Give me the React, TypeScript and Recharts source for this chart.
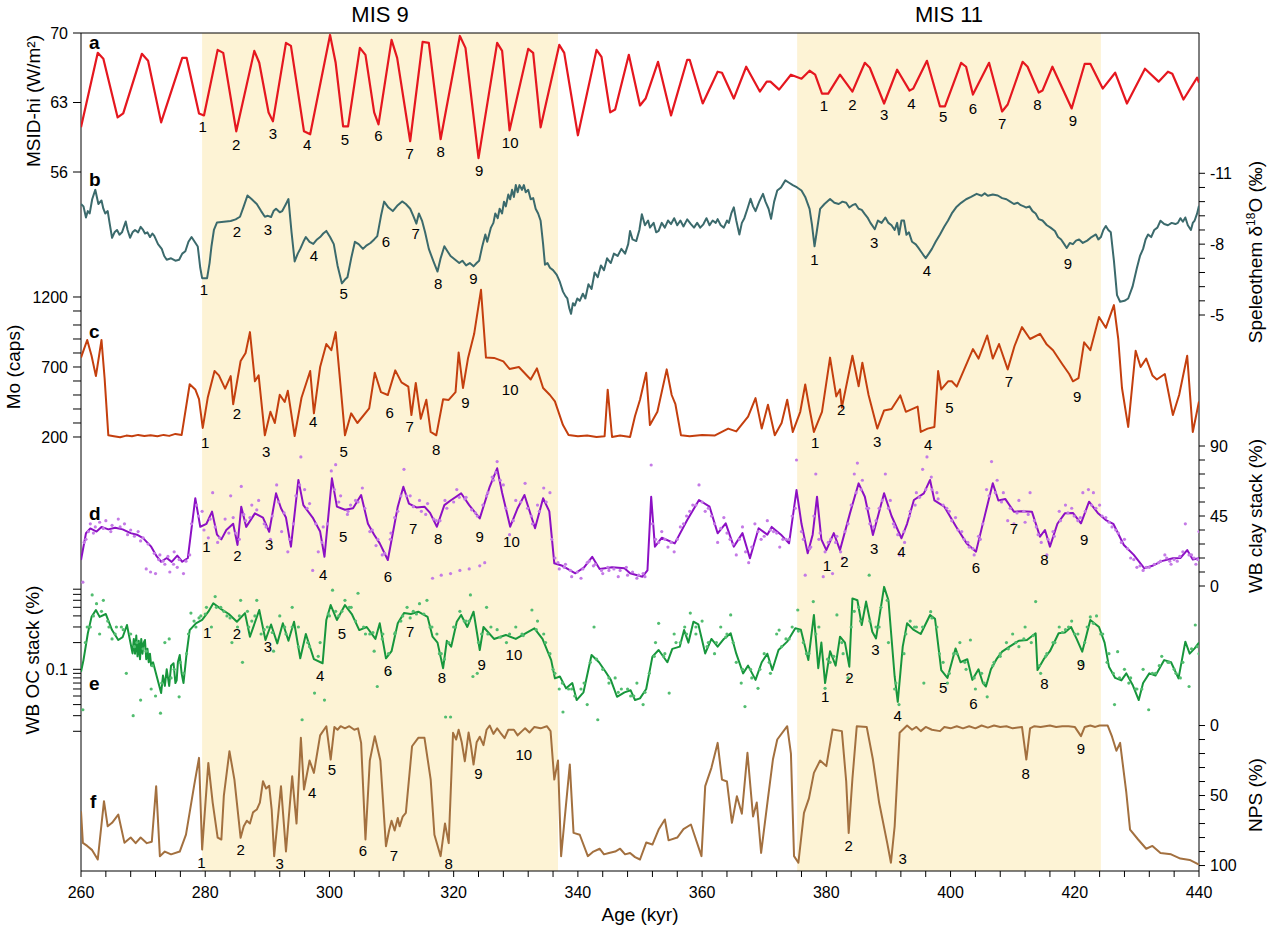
import React from "react";
import {
  ComposedChart,
  Line,
  Scatter,
  XAxis,
  YAxis,
  ReferenceArea,
  ReferenceLine,
} from "recharts";

// Six stacked proxy records (a-f) sharing one age axis, MIS 9 and MIS 11
// shaded. Each pair of records lives in its own transparent chart layer so
// every record can have its own y scale placed in its own band.

type Pair = [number, number];
type Tag = [number, number, string];

const W = 1267;
const H = 926;
const MARGIN = { top: 33, right: 8, bottom: 25, left: 21 };
const FONT = '"Liberation Sans", Arial, Helvetica, sans-serif';

const AGE_DOMAIN: Pair = [260, 440];
const AGE_TICKS = [
  260, 264, 268, 272, 276, 280, 284, 288, 292, 296, 300, 304, 308, 312, 316,
  320, 324, 328, 332, 336, 340, 344, 348, 352, 356, 360, 364, 368, 372, 376,
  380, 384, 388, 392, 396, 400, 404, 408, 412, 416, 420, 424, 428, 432, 436, 440,
];
const MIS_BANDS: [number, number, string][] = [
  [279.5, 336.8, "MIS 9"],
  [375.3, 424.2, "MIS 11"],
];

// y domains are chosen so each record sits in its own band of the frame
const MSID_DOMAIN: Pair = [-14.4, 70];
const MSID_TICKS = [56, 63, 70];
const O18_DOMAIN: Pair = [-16.94, 18.54];
const O18_TICKS = [-11, -10.4, -9.8, -9.2, -8.6, -8, -7.4, -6.8, -6.2, -5.6, -5];
const O18_LABELS = [-11, -8, -5];
const MO_DOMAIN: Pair = [-2900, 3085.7];
const MO_TICKS = [200, 300, 400, 500, 600, 700, 800, 900, 1000, 1100, 1200];
const MO_LABELS = [200, 700, 1200];
const CLAY_DOMAIN: Pair = [-183.2, 355.5];
const CLAY_TICKS = [0, 9, 18, 27, 36, 45, 54, 63, 72, 81, 90];
const CLAY_LABELS = [0, 45, 90];
const OC_DOMAIN: Pair = [0.000532, 1493000];
const OC_TICKS = [
  0.02, 0.03, 0.04, 0.05, 0.06, 0.07, 0.08, 0.09, 0.1, 0.2, 0.3, 0.4, 0.5,
  0.6, 0.7, 0.8,
];
const NPS_DOMAIN: Pair = [-494.6, 103.9];
const NPS_TICKS = [0, 10, 20, 30, 40, 50, 60, 70, 80, 90, 100];
const NPS_LABELS = [0, 50, 100];

const COLORS = {
  band: "#fdf3d5",
  msid: "#e5171f",
  o18: "#3b6a6c",
  mo: "#c43f0e",
  clay: "#8c10c4",
  clayDot: "#c47ae6",
  oc: "#17963c",
  ocDot: "#52bd70",
  nps: "#a3703f",
};

// a: MSID-hi insolation (W/m2)
const MSID: Pair[] = [
  [260, 60.5], [262.7, 68.0], [263.6, 67.4], [265.9, 61.5], [266.8, 61.9], [269.8, 67.9],
  [270.8, 67.2], [272.9, 61.0], [276.3, 67.5], [277, 67.5], [279, 61.9], [279.8, 61.7],
  [282, 68.3], [282.9, 68.0], [285, 60.1], [287.9, 68.2], [288.7, 67.0], [290.2, 62.0],
  [290.9, 61.1], [293, 69.0], [293.8, 68.7], [295.9, 60.1], [296.9, 59.8], [300.1, 69.8],
  [301, 67.0], [302.2, 60.6], [303, 60.6], [304.9, 68.5], [305.8, 67.8], [307.2, 62.0],
  [307.9, 60.8], [310, 69.3], [310.9, 67.5], [313, 59.1], [315, 69.1], [316, 69.0],
  [317.9, 59.3], [321, 69.7], [321.9, 68.5], [324, 57.4], [327, 69.0], [327.8, 68.2],
  [329, 60.2], [332, 68.4], [332.8, 68.0], [334, 60.5], [337, 68.8], [337.8, 68.0],
  [340, 59.7], [343, 68.3], [343.8, 67.6], [345.2, 62.0], [346, 62.3], [348.2, 67.8],
  [350, 62.7], [350.9, 63.4], [352.9, 67.1], [355, 61.7], [357.6, 67.3], [358, 67.3],
  [360.1, 62.9], [362.5, 66.1], [363.2, 66.0], [365.1, 63.4], [367.1, 66.6], [369.3, 64.1],
  [370.4, 65.1], [371, 65.1], [372.4, 64.3], [374.3, 65.8], [376, 65.4], [377.3, 66.2],
  [378.2, 65.8], [379.3, 63.9], [380.3, 63.9], [382.2, 65.8], [384.2, 64.1], [386.2, 67.0],
  [387, 66.5], [389.3, 62.9], [391.4, 66.3], [393.4, 64.2], [394, 64.4], [396.2, 67.2],
  [398.3, 62.6], [399.1, 62.6], [401.7, 67.0], [402.5, 66.6], [403.6, 63.8], [406.2, 67.0],
  [408.3, 62.1], [409.2, 62.8], [411.6, 67.1], [412.4, 66.6], [414.2, 64.0], [414.8, 64.2],
  [416.4, 66.6], [419.5, 62.4], [421.6, 66.9], [422.5, 66.9], [424.5, 64.4], [426.5, 66.0],
  [428.4, 62.9], [431.3, 66.4], [433.5, 65.1], [435, 66.1], [435.7, 65.9], [437.5, 63.3],
  [439.7, 65.5], [440, 65.0],
];

// b: speleothem d18O (permil)
const O18: Pair[] = [
  [260, -9.7], [260.4, -9.6], [260.8, -9.13], [261.1, -9.4], [261.4, -9.3], [261.8, -9.9], [262.3, -10.3],
  [262.8, -9.7], [263.3, -9.85], [263.6, -9.5], [263.9, -9.3], [264.3, -9.4], [264.6, -8.9], [265, -8.27],
  [265.4, -8.5], [265.8, -8.6], [266.2, -8.4], [266.6, -8.5], [267.2, -8.96], [267.5, -8.6], [267.9, -8.27],
  [268.3, -8.5], [268.7, -8.6], [269.2, -8.5], [269.6, -8.73], [270, -8.6], [270.3, -8.45], [270.7, -8.5],
  [271.1, -8.3], [271.5, -8.45], [271.8, -8.35], [272.4, -8.0], [273, -7.8], [273.4, -7.5], [273.8, -7.34],
  [274.5, -7.4], [275.2, -7.3], [275.8, -7.34], [276.3, -7.6], [276.8, -7.7], [277.3, -8.1], [277.8, -8.3],
  [278.3, -8.1], [278.8, -7.9], [279.2, -7.0], [279.5, -6.56], [280.3, -6.56], [280.7, -7.2], [281, -7.9],
  [281.4, -8.6], [281.9, -8.92], [283, -8.95], [284.1, -8.98], [284.9, -9.05], [285.6, -9.16], [286.2, -9.6],
  [286.8, -10.06], [287.5, -9.9], [288.3, -9.7], [289, -9.4], [289.6, -9.16], [290.1, -9.2], [290.6, -9.15],
  [291, -9.4], [291.4, -9.5], [292, -9.35], [292.4, -9.4], [293, -9.7], [293.4, -9.91], [293.9, -8.5],
  [294.4, -7.27], [294.9, -7.6], [295.3, -7.8], [295.8, -8.1], [296.2, -8.3], [296.8, -8.1], [297.4, -8.01],
  [298, -8.2], [298.5, -8.3], [299, -8.45], [299.5, -8.56], [300.1, -8.3], [300.7, -8.0], [301.3, -7.1],
  [302, -6.34], [302.5, -6.5], [302.9, -6.6], [303.5, -7.4], [304.1, -8.1], [304.7, -8.0], [305.4, -7.8],
  [306, -7.95], [306.6, -8.05], [307.2, -8.2], [307.7, -8.34], [308.3, -9.2], [308.8, -9.8], [309.5, -9.55],
  [310.2, -9.4], [311, -9.65], [311.7, -9.81], [312.3, -9.7], [313, -9.5], [313.5, -9.2], [314, -8.87],
  [314.4, -9.3], [314.9, -9.0], [315.4, -8.5], [316, -7.8], [316.7, -7.3], [317.4, -6.84], [317.9, -7.4],
  [318.5, -7.91], [319, -7.7], [319.5, -7.5], [320.2, -7.35], [320.9, -7.2], [321.4, -7.3], [322, -7.1],
  [322.6, -7.2], [323.2, -7.06], [323.7, -7.2], [324.1, -7.3], [324.6, -7.9], [325.1, -8.41], [325.4, -8.1],
  [325.7, -8.4], [326, -8.7], [326.4, -8.9], [326.7, -9.3], [327.1, -9.1], [327.4, -9.5], [327.8, -9.3],
  [328.1, -9.8], [328.4, -9.6], [328.8, -10.1], [329.1, -9.9], [329.4, -10.3], [329.7, -10.0], [330, -10.5],
  [330.3, -10.2], [330.6, -10.5], [331, -10.3], [331.3, -10.5], [331.6, -10.2], [332, -10.3], [332.4, -9.9],
  [332.8, -9.95], [333.2, -9.5], [333.6, -9.3], [334, -8.99], [334.4, -8.0], [334.7, -7.13], [335.1, -7.2],
  [335.5, -7.0], [336, -6.9], [336.6, -6.7], [337.1, -6.4], [337.6, -5.99], [338, -5.8], [338.3, -5.7],
  [338.6, -5.3], [338.9, -5.05], [339.2, -5.5], [339.5, -5.4], [339.9, -5.7], [340.3, -5.6], [340.8, -5.9],
  [341.2, -5.7], [341.7, -6.3], [342.2, -6.1], [342.7, -6.8], [343.2, -6.6], [343.7, -7.1], [344.2, -6.9],
  [344.7, -7.4], [345.3, -7.2], [345.8, -7.6], [346.4, -7.5], [347, -7.8], [347.6, -7.6], [348.1, -8.0],
  [348.4, -8.56], [348.8, -8.2], [349.4, -8.13], [349.9, -8.6], [350.3, -9.27], [350.8, -8.8], [351.3, -9.0],
  [351.6, -8.7], [352.2, -8.9], [352.6, -8.5], [353, -8.56], [353.5, -8.9], [354, -8.7], [354.5, -9.0],
  [355, -8.85], [355.5, -9.1], [356, -8.8], [356.5, -9.0], [357, -8.75], [357.6, -9.05], [358.2, -8.85],
  [358.7, -8.7], [359.2, -8.9], [359.7, -8.7], [360.2, -8.84], [360.7, -9.1], [361.2, -8.8], [361.7, -9.0],
  [362.2, -8.9], [362.5, -9.06], [363, -8.8], [363.5, -8.7], [364, -9.0], [364.3, -8.9], [364.7, -9.3],
  [365.1, -9.56], [365.5, -9.0], [366, -8.41], [366.4, -8.9], [366.8, -9.1], [367.3, -9.5], [367.8, -9.92],
  [368.2, -9.6], [368.6, -9.4], [369.2, -9.8], [369.8, -10.13], [370.2, -9.8], [370.7, -9.5], [371.1, -9.07],
  [371.6, -9.8], [372.1, -10.27], [372.7, -10.4], [373.4, -10.7], [374, -10.6], [374.6, -10.5], [375.3, -10.4],
  [376, -10.27], [376.6, -10.0], [377.3, -9.49], [377.7, -8.8], [378.1, -7.91], [378.5, -8.6], [379, -9.49],
  [379.7, -9.7], [380.6, -9.91], [381.3, -9.75], [382, -9.7], [382.6, -9.8], [383.2, -9.75], [383.7, -9.55],
  [384.2, -9.65], [384.7, -9.7], [385.2, -9.5], [385.7, -9.45], [386.2, -9.27], [386.7, -9.1], [387.1, -8.9],
  [387.5, -8.75], [387.8, -8.63], [388.3, -9.0], [388.9, -8.9], [389.5, -9.13], [390, -8.9], [390.5, -8.8],
  [391, -8.6], [391.4, -8.9], [391.7, -8.41], [392.1, -9.0], [392.5, -9.0], [392.9, -8.4], [393.3, -8.5],
  [393.8, -8.1], [394.4, -7.99], [394.8, -7.85], [395.2, -7.7], [395.6, -7.55], [396, -7.41], [396.5, -7.6],
  [397, -7.8], [397.6, -8.1], [398.3, -8.41], [399, -8.75], [399.6, -9.0], [400.2, -9.3], [400.9, -9.56],
  [401.7, -9.75], [402.5, -9.9], [403.3, -10.0], [404.2, -10.13], [405, -10.05], [405.5, -10.15], [406, -10.05],
  [406.8, -10.1], [407.6, -10.06], [408.3, -9.95], [409, -9.9], [409.6, -9.8], [410.2, -9.7], [410.8, -9.75],
  [411.3, -9.65], [411.8, -9.6], [412.2, -9.55], [412.7, -9.6], [413.2, -9.4], [413.7, -9.3], [414.2, -9.06],
  [414.8, -9.0], [415.5, -8.8], [416.1, -8.7], [416.8, -8.56], [417.3, -8.3], [417.8, -8.2], [418.3, -8.0],
  [418.7, -7.84], [419.2, -8.05], [419.7, -8.0], [420.2, -8.15], [420.7, -8.2], [421.3, -8.05], [422, -8.15],
  [422.7, -8.3], [423.4, -8.41], [423.8, -8.2], [424.2, -8.3], [424.6, -8.6], [425, -8.77], [425.4, -8.6],
  [425.8, -8.5], [426.3, -7.3], [426.8, -5.84], [427.3, -5.56], [428, -5.6], [428.6, -5.7], [429.3, -6.2],
  [430, -6.99], [430.5, -7.5], [431, -7.8], [431.4, -8.2], [431.8, -8.41], [432.3, -8.3], [432.8, -8.6],
  [433.3, -8.7], [433.8, -8.99], [434.4, -8.85], [435, -8.8], [435.6, -8.9], [436.2, -8.85], [436.6, -8.9],
  [437, -9.1], [437.4, -8.95], [437.8, -9.13], [438.2, -8.8], [438.7, -8.6], [439, -8.9], [439.3, -9.0],
  [439.7, -9.3], [440, -9.63],
];

// c: Mo counts (caps)
const MO: Pair[] = [
  [260, 767], [261, 893], [261.7, 780], [262.4, 635], [263.3, 893], [263.8, 620], [264.4, 212],
  [265.3, 205], [266.3, 198], [267.3, 210], [268.2, 205], [269.2, 215], [270.2, 207], [271.2, 212],
  [272.3, 205], [273.3, 215], [274.2, 208], [275.2, 222], [276.2, 214], [277.5, 577], [278.4, 540],
  [279, 470], [279.6, 265], [280.4, 480], [281.5, 671], [282.2, 640], [283.2, 545], [284.1, 635],
  [284.5, 434], [285.7, 743], [286.5, 800], [287.2, 949], [288, 598], [288.6, 640], [289.6, 212],
  [290.5, 380], [291.2, 300], [292, 502], [292.8, 450], [293.3, 530], [294.4, 207], [295.5, 480],
  [296.9, 671], [297.5, 369], [298.5, 700], [299.5, 864], [300.3, 820], [301, 949], [301.8, 560],
  [302.5, 212], [303.5, 369], [304.5, 300], [306.4, 405], [307.3, 659], [308.3, 520], [309.4, 500],
  [310.6, 676], [311.6, 590], [312.7, 560], [313.2, 357], [313.9, 586], [314.7, 330], [315.6, 466],
  [316.3, 236], [317.2, 212], [318.3, 470], [319.2, 465], [320.3, 520], [320.8, 804], [321.5, 550],
  [322.3, 760], [323.3, 937], [324.4, 1251], [325.2, 767], [326.5, 765], [328, 740], [329, 686],
  [330.5, 700], [332.4, 611], [333.4, 690], [334.4, 550], [335.5, 500], [336.3, 454], [337.6, 285],
  [338.5, 215], [340, 205], [341.5, 210], [343, 200], [344.3, 205], [344.8, 538], [345.5, 200],
  [346.8, 210], [348.4, 200], [349.2, 350], [350, 466], [351, 659], [351.6, 285], [352.8, 380],
  [354.3, 683], [355.1, 500], [355.7, 434], [356.6, 212], [358, 205], [360, 215], [362, 210],
  [364.2, 260], [365.5, 240], [367.4, 345], [368.6, 478], [369.6, 260], [370.6, 430], [371.7, 212],
  [372.8, 300], [373.7, 466], [374.6, 236], [375.8, 380], [376.6, 575], [377.3, 400], [378, 236],
  [379.3, 380], [380.6, 767], [381.6, 490], [382.2, 540], [382.5, 410], [384.2, 780], [385.2, 562],
  [385.8, 731], [386.8, 500], [388.2, 260], [389.3, 390], [390.5, 400], [391.9, 497], [392.8, 380],
  [394.7, 417], [395.2, 236], [396.3, 260], [397.4, 272], [398, 671], [398.5, 540], [399.6, 598],
  [400.2, 598], [401, 560], [403.6, 828], [404.5, 760], [405.9, 925], [406.8, 760], [407.8, 864],
  [409.2, 683], [410.3, 850], [411.5, 985], [412.8, 900], [414.4, 937], [415.5, 860], [416.5, 820],
  [418, 720], [419.1, 650], [419.7, 598], [420.6, 620], [421.5, 876], [422.5, 820], [423.9, 1057],
  [425, 980], [426.3, 1142], [427, 900], [427.6, 550], [428.6, 272], [429.8, 816], [430.6, 700],
  [431.5, 760], [432.5, 640], [433.2, 611], [434.5, 650], [435.8, 357], [436.8, 500], [438.1, 780],
  [439, 236], [440, 454],
];

// d: WB clay stack (%), smoothed line and raw points
const CLAY: Pair[] = [
  [260, 16.7], [260.8, 33.9], [261.5, 37], [262.5, 35], [263.3, 38], [264.4, 36.4], [265.5, 37.5],
  [266.7, 36.4], [268, 34], [269, 33], [270, 30.8], [271.3, 25.3], [272.2, 19], [272.9, 15.6],
  [273.8, 18], [274.6, 15.5], [275.5, 19.5], [276.3, 15.6], [277.2, 18], [278.4, 56.4], [279.2, 38.1],
  [280.2, 40], [281.1, 47.8], [281.9, 33], [282.6, 30], [283.4, 36], [284.5, 40], [285.2, 26.4],
  [285.8, 51], [286.6, 38], [288, 46.7], [289.3, 44], [290.3, 34.9], [291.4, 59.6], [292.2, 50],
  [293, 44], [293.8, 25.3], [295, 68.2], [295.8, 52], [297.3, 44], [298.5, 35], [299.2, 18.8],
  [300.4, 69.2], [301.2, 51], [302.5, 49], [303.8, 50], [305.1, 58.5], [306.2, 40], [307.2, 33],
  [308.1, 27.4], [309.4, 16.7], [311, 51], [311.9, 63.8], [312.8, 53], [314, 50.5], [315.3, 51],
  [316.2, 47], [317.3, 38.1], [318.5, 52], [319.5, 55], [321.2, 59.6], [322.5, 52], [324.2, 43.5],
  [325.8, 63.8], [327, 75.7], [327.8, 60], [329.1, 38.1], [330.3, 50], [331.4, 58.5], [333.1, 37.1],
  [334.4, 56.4], [335.4, 48], [336.2, 14.6], [337.5, 13], [339.6, 8.2], [341, 12], [342.3, 18.8],
  [343.5, 11], [345.5, 12], [347.5, 11.4], [348.4, 8.2], [350.4, 6], [351.2, 10], [351.8, 57.4],
  [352.4, 25.3], [353.5, 31], [355.6, 27.4], [357.6, 42.4], [359.5, 55.3], [361.2, 51], [362.5, 33.9],
  [363.8, 40.3], [365.1, 25.3], [366.5, 34], [367.7, 17.8], [369.1, 37.1], [370.5, 33], [371.2, 38],
  [372.7, 33], [374, 27.4], [375.2, 61.7], [376, 40], [377, 21], [377.8, 33], [378.5, 57.4],
  [379.2, 30], [380, 23.1], [381.2, 34], [382.2, 23.1], [383.8, 46.7], [385.2, 66], [386.2, 57.4],
  [387.5, 32.8], [389.3, 59.6], [390.5, 45], [392.1, 30.7], [393, 40], [394.1, 55.3], [395.7, 59.6],
  [396.7, 68.2], [397.4, 55], [399, 51], [400.9, 38.1], [402.6, 27.4], [404.1, 22.1], [405.6, 46.7],
  [406.8, 66], [407.7, 55], [408.8, 56], [410.2, 47.8], [411.5, 48], [413.1, 47.8], [414.4, 31.7],
  [415.2, 36], [416, 25.3], [417.2, 40], [418.4, 46.7], [419.7, 47], [421, 40.3], [422.3, 54.2],
  [423.7, 47], [425, 42.4], [426.2, 40], [427.9, 26.4], [429.5, 20], [431.2, 11.4], [432.5, 13],
  [434, 16], [435.8, 17.8], [437, 18], [438.1, 23.1], [439, 17], [440, 17.8],
];
const CLAY_RAW: Pair[] = [
  [260.3, 2.5], [260.8, 30], [261.5, 40], [262.3, 38], [263, 41], [264, 42], [265, 39], [266, 43],
  [267, 40], [268, 36], [269.2, 35], [270, 31], [270.5, 11], [271.2, 9], [272, 8], [272.7, 20],
  [273.5, 14], [274.3, 9], [275, 22], [275.5, 12], [276.5, 8], [277.5, 20], [278.6, 52], [279.5, 48],
  [280.5, 31], [281.2, 60], [282, 28], [283.2, 43], [284.1, 58], [284.9, 34], [285.8, 64], [286.5, 42],
  [287.5, 52], [288.6, 55], [289.5, 40], [290.5, 30], [291.5, 65], [292.3, 35], [293.3, 22], [294.2, 40],
  [295.4, 83], [296, 62], [296.8, 53], [297.3, 10], [298.2, 22], [299, 38], [300.3, 74], [301, 78],
  [301.8, 58], [303, 48], [304.2, 55], [305.3, 63], [306.5, 35], [307.5, 26], [308.5, 20], [309.8, 30],
  [311, 48], [312, 75], [313, 58], [314.5, 55], [315.5, 46], [316.6, 5], [317.2, 42], [318, 7],
  [318.6, 55], [319.5, 8], [320.5, 62], [321, 10], [322, 57], [322.5, 11], [323.5, 47], [324.2, 13],
  [325, 15], [325.5, 60], [326.4, 68], [327, 80], [328, 65], [329, 33], [330, 55], [331.5, 66],
  [332.5, 45], [333.5, 52], [334.5, 63], [335.5, 60], [336.3, 18], [337, 11], [338, 14], [339, 6],
  [340.5, 5], [341.5, 15], [342.5, 13], [344, 8], [345, 10], [346.5, 6], [348, 7], [349.5, 5],
  [350.5, 8], [351.8, 77.8], [352.5, 30], [353.5, 35], [354.5, 25], [355.5, 22], [356.5, 38], [357.5, 45],
  [358.5, 52], [359.5, 65], [360.5, 48], [361.5, 45], [362.5, 28], [363.5, 44], [364.5, 30], [365.5, 20],
  [366.5, 38], [367.5, 15], [368.5, 40], [369.5, 30], [370.5, 42], [371.5, 35], [372.5, 25], [373.5, 30],
  [374.5, 45], [375.2, 81], [376, 35], [376.6, 7], [377.5, 25], [378.3, 72], [378.8, 30], [379.5, 6],
  [380.3, 28], [381, 8], [381.7, 32], [382.6, 18], [383.5, 40], [384.5, 72], [385, 79], [385.8, 68],
  [386.8, 50], [387.6, 38], [388.5, 50], [389.5, 72], [390.3, 55], [391, 38], [391.8, 20], [392.6, 28],
  [393.5, 48], [394.5, 60], [395.5, 75], [396.2, 83], [396.9, 70], [397.8, 60], [398.8, 52], [399.8, 48],
  [400.8, 44], [401.8, 35], [402.8, 28], [403.8, 20], [404.8, 30], [405.8, 62], [406.6, 80], [407.5, 68],
  [408.5, 60], [409.2, 42], [410.2, 40], [411, 55], [412, 41], [412.8, 60], [413.8, 38], [414.6, 28],
  [415.5, 20], [416.5, 35], [417.5, 48], [418.5, 52], [419.5, 50], [420.5, 42], [421.3, 60], [422.2, 62],
  [423, 60], [424, 52], [425, 44], [426, 38], [427, 34], [428, 30], [429, 18], [430, 12],
  [431, 10], [432, 12], [433.5, 15], [434.5, 20], [435.5, 14], [436.5, 16], [437.8, 40], [438.8, 20],
  [439.5, 14], [440, 35],
];
// raw clay points that sit close to the smoothed line
const CLAY_RAW_NEAR: Pair[] = [
  [260.5, 28], [261.2, 35], [262, 34], [263.6, 37], [264.8, 35], [266.3, 38], [267.5, 33], [268.6, 32],
  [269.6, 29], [270.8, 27], [271.8, 21], [272.5, 17], [273.2, 16], [274, 19], [274.9, 14], [275.8, 17],
  [276.9, 16], [277.8, 40], [278.9, 45], [279.8, 36], [280.8, 43], [281.6, 38], [282.3, 31], [283.8, 34],
  [284.5, 44], [285.5, 30], [286.2, 46], [287.2, 44], [288.3, 49], [289.8, 38], [290.8, 45], [291.8, 54],
  [292.7, 47], [293.6, 30], [294.6, 58], [295.2, 65], [296.4, 50], [297.8, 40], [298.8, 28], [299.7, 40],
  [300.8, 62], [301.5, 54], [302.9, 46], [303.4, 52], [304.6, 54], [305.7, 50], [306.9, 36], [307.8, 30],
  [308.9, 21], [309.9, 34], [310.5, 44], [311.5, 58], [312.4, 58], [313.5, 51], [314.8, 48], [315.8, 53],
  [316.8, 43], [317.8, 42], [318.9, 50], [320, 54], [320.9, 57], [321.8, 56], [322.9, 49], [323.8, 45],
  [324.7, 52], [325.3, 58], [326.2, 70], [326.8, 73], [327.5, 68], [328.4, 50], [329.6, 42], [330.8, 54],
  [331.9, 50], [332.7, 40], [333.8, 48], [334.9, 54], [335.8, 30], [336.8, 15], [337.8, 12], [338.8, 10],
  [339.9, 9], [340.8, 11], [341.8, 16], [342.8, 14], [343.8, 10], [344.8, 12], [345.8, 11], [346.8, 10],
  [347.8, 12], [348.8, 9], [349.8, 7], [350.8, 6], [352, 40], [353, 28], [354, 30], [355, 28],
  [356, 30], [357, 40], [358, 48], [359, 52], [360, 54], [361, 50], [362, 40], [363, 37],
  [364, 34], [365, 27], [366, 30], [367, 22], [368, 25], [369, 35], [370, 32], [371, 36],
  [372, 34], [373, 30], [374, 30], [375, 50], [376.3, 30], [377.3, 24], [378, 45], [379, 34],
  [379.8, 22], [380.7, 30], [381.5, 28], [382.3, 22], [383, 35], [384, 52], [384.8, 60], [385.6, 62],
  [386.5, 50], [387, 40], [388, 42], [389, 55], [390, 50], [390.8, 40], [391.5, 33], [392.5, 35],
  [393.4, 45], [394.3, 52], [395, 57], [396, 62], [397, 62], [398, 56], [399.4, 50], [400.2, 42],
  [401.2, 36], [402.2, 30], [403, 25], [403.6, 24], [404.5, 32], [405.2, 40], [406.2, 58], [407.2, 60],
  [408.2, 54], [409.6, 50], [410.7, 47], [411.8, 48], [412.5, 46], [413.5, 42], [414.1, 33], [415.7, 30],
  [416.7, 32], [417.7, 42], [418.9, 47], [419.9, 45], [420.9, 44], [421.7, 48], [422.7, 52], [423.4, 50],
  [424.4, 45], [425.5, 41], [426.6, 36], [427.5, 28], [428.5, 24], [429.5, 17], [430.5, 13], [431.5, 12],
  [432.8, 14], [433.8, 16], [434.8, 18], [435.3, 16], [436, 17], [436.9, 19], [437.4, 22], [438.4, 20],
  [439.2, 18], [439.8, 17],
];

// e: WB organic carbon stack (%), log axis
const OC: Pair[] = [
  [260, 0.094], [260.4, 0.127], [261.1, 0.255], [261.7, 0.39], [262.4, 0.466], [263, 0.39], [264, 0.42],
  [265, 0.277], [266, 0.214], [266.7, 0.23], [267.4, 0.316], [268.3, 0.151], [268.5, 0.22], [268.7, 0.15],
  [268.9, 0.24], [269.1, 0.14], [269.3, 0.21], [269.5, 0.13], [269.7, 0.22], [269.9, 0.15], [270.1, 0.2],
  [270.3, 0.214], [270.5, 0.13], [270.7, 0.17], [270.9, 0.12], [271.1, 0.15], [271.3, 0.11], [271.6, 0.12],
  [272.2, 0.083], [272.9, 0.054], [273.2, 0.085], [273.5, 0.065], [273.8, 0.1], [274.2, 0.065], [274.5, 0.11],
  [274.9, 0.117], [275.2, 0.07], [275.4, 0.075], [275.6, 0.12], [275.9, 0.145], [276.2, 0.09], [276.5, 0.07],
  [277, 0.15], [277.5, 0.277], [278.5, 0.33], [279.5, 0.36], [280.5, 0.446], [281.3, 0.555], [282.5, 0.48],
  [283.8, 0.42], [285.1, 0.344], [286.4, 0.43], [287.2, 0.233], [288.7, 0.466], [289.7, 0.214], [290.6, 0.32],
  [291.6, 0.196], [292.5, 0.33], [293.4, 0.21], [294.3, 0.344], [295.3, 0.133], [296.2, 0.25], [297.5, 0.13],
  [298.9, 0.117], [299.5, 0.36], [300.2, 0.53], [301.2, 0.36], [302.5, 0.53], [303.6, 0.42], [304.8, 0.277],
  [306, 0.3], [307.4, 0.22], [308.1, 0.33], [309.1, 0.133], [310, 0.16], [311, 0.33], [312, 0.43],
  [313.1, 0.42], [314.3, 0.446], [315.8, 0.39], [316.6, 0.233], [317.4, 0.2], [318.3, 0.103], [318.9, 0.21],
  [319.6, 0.18], [320.5, 0.344], [321.2, 0.41], [322.2, 0.3], [323.2, 0.446], [324.2, 0.165], [324.8, 0.3],
  [326.5, 0.22], [328.4, 0.244], [330, 0.22], [332, 0.265], [333, 0.29], [334.3, 0.22], [335.7, 0.127],
  [336.3, 0.079], [337.1, 0.083], [338.1, 0.061], [339.1, 0.07], [339.8, 0.045], [340.9, 0.055], [342.2, 0.145],
  [343.4, 0.12], [344.4, 0.095], [345.3, 0.076], [346.3, 0.049], [347.5, 0.055], [348.5, 0.058], [349.2, 0.045],
  [350, 0.047], [351, 0.06], [352, 0.139], [353, 0.165], [354.4, 0.12], [355.2, 0.17], [356.4, 0.18],
  [357.1, 0.277], [357.8, 0.2], [358.6, 0.344], [359.4, 0.32], [360.5, 0.151], [361.5, 0.22], [362.5, 0.18],
  [363.5, 0.22], [364.6, 0.255], [365.5, 0.15], [366.6, 0.09], [367.4, 0.11], [368.6, 0.076], [369.6, 0.12],
  [370.5, 0.15], [371.3, 0.098], [372.3, 0.165], [373.7, 0.205], [375, 0.29], [375.9, 0.28], [377.1, 0.127],
  [378, 0.41], [378.7, 0.103], [379.2, 0.2], [379.8, 0.07], [380.6, 0.16], [381.5, 0.11], [382.2, 0.233],
  [383, 0.2], [383.7, 0.107], [384.2, 0.63], [385, 0.6], [385.7, 0.316], [386.4, 0.58], [387.4, 0.265],
  [388, 0.223], [389.3, 0.85], [390, 0.6], [391, 0.083], [391.5, 0.043], [392.3, 0.18], [393, 0.33],
  [394, 0.28], [395.2, 0.25], [396.7, 0.41], [397.5, 0.37], [398.5, 0.098], [399.5, 0.08], [400.8, 0.172],
  [401.6, 0.12], [402.7, 0.13], [403.5, 0.076], [404.5, 0.1], [405.2, 0.07], [405.7, 0.064], [406.5, 0.1],
  [407.4, 0.13], [408.3, 0.158], [409.5, 0.18], [411, 0.21], [412.3, 0.214], [413.7, 0.255], [414, 0.098],
  [415, 0.13], [416, 0.16], [417.4, 0.255], [418.4, 0.26], [419.4, 0.3], [420.3, 0.22], [421.2, 0.158],
  [422.5, 0.36], [423.9, 0.3], [424.8, 0.2], [425.5, 0.107], [426.5, 0.08], [427.5, 0.075], [428.3, 0.09],
  [429.3, 0.067], [430.3, 0.045], [431, 0.07], [432, 0.09], [433, 0.085], [434.4, 0.127], [435.5, 0.12],
  [436.7, 0.079], [437.8, 0.205], [438.5, 0.15], [439.3, 0.172], [440, 0.2],
];
const OC_RAW: Pair[] = [
  [260.3, 0.035], [260.7, 0.2], [261.5, 0.3], [261.8, 0.69], [262.5, 0.55], [263, 0.25], [263.6, 0.6],
  [264.3, 0.35], [265, 0.22], [265.7, 0.3], [266.5, 0.3], [267.3, 0.09], [268, 0.25], [268.4, 0.03],
  [269, 0.2], [269.6, 0.045], [270.5, 0.16], [271.3, 0.06], [272, 0.05], [272.8, 0.032], [273.5, 0.2],
  [274.2, 0.22], [275, 0.1], [275.8, 0.049], [276.5, 0.09], [277, 0.15], [277.7, 0.43], [278.5, 0.3],
  [279.3, 0.4], [280.2, 0.5], [281, 0.3], [281.6, 0.66], [282.5, 0.5], [283.5, 0.4], [284.3, 0.2],
  [285.2, 0.3], [285.7, 0.6], [286, 0.12], [286.8, 0.45], [287.5, 0.35], [288.3, 0.6], [289, 0.25],
  [290, 0.3], [291, 0.16], [292, 0.4], [293, 0.25], [294, 0.5], [295, 0.3], [295.6, 0.027],
  [296.5, 0.2], [297.6, 0.054], [298.5, 0.2], [299.2, 0.045], [300, 0.4], [300.5, 0.78], [301.5, 0.4],
  [302.5, 0.6], [303.5, 0.5], [304.6, 0.72], [305.5, 0.3], [306.5, 0.25], [307.2, 0.16], [307.7, 0.064],
  [308.6, 0.25], [309.8, 0.09], [310.5, 0.25], [311.5, 0.35], [312.5, 0.5], [313.5, 0.45], [314.5, 0.55],
  [315.7, 0.6], [316.5, 0.3], [317.3, 0.25], [318, 0.15], [318.7, 0.029], [319.5, 0.029], [320, 0.3],
  [321, 0.45], [322, 0.35], [322.7, 0.69], [323.1, 0.083], [323.8, 0.09], [324.5, 0.25], [325.3, 0.5],
  [326, 0.3], [327, 0.28], [328.5, 0.2], [330, 0.3], [331, 0.25], [332.6, 0.466], [333.5, 0.35],
  [334.5, 0.25], [335.5, 0.15], [336.3, 0.09], [337, 0.06], [337.6, 0.033], [338.5, 0.06], [339.5, 0.05],
  [340.5, 0.06], [341.5, 0.04], [342.6, 0.3], [343.2, 0.027], [344, 0.1], [345, 0.07], [346, 0.08],
  [347, 0.06], [348.5, 0.05], [349.5, 0.07], [350.5, 0.04], [351.5, 0.09], [352.5, 0.2], [353, 0.33],
  [354, 0.15], [354.7, 0.054], [355.5, 0.25], [356.5, 0.2], [357.2, 0.3], [358.1, 0.43], [359, 0.25],
  [360, 0.35], [361, 0.2], [362, 0.15], [363, 0.3], [364, 0.25], [364.6, 0.41], [365.5, 0.12],
  [366.3, 0.07], [366.9, 0.038], [367.8, 0.1], [369, 0.061], [370, 0.15], [371, 0.09], [372, 0.25],
  [372.4, 0.277], [373.5, 0.22], [374.5, 0.3], [375.4, 0.466], [376.3, 0.2], [377.2, 0.15], [377.9, 0.58],
  [378.8, 0.3], [379.8, 0.061], [380.6, 0.12], [381.7, 0.41], [382.7, 0.15], [383.5, 0.08], [384.5, 0.45],
  [385.5, 0.35], [386.9, 1.15], [388, 0.3], [388.8, 0.5], [390, 0.2], [391, 0.06], [391.7, 0.04],
  [392.5, 0.15], [393.5, 0.35], [394.5, 0.3], [395.7, 0.07], [396.8, 0.446], [397.8, 0.3], [398.8, 0.12],
  [399.5, 0.07], [400.5, 0.15], [401.5, 0.2], [402.5, 0.1], [403.2, 0.214], [404, 0.06], [405, 0.09],
  [405.9, 0.049], [407, 0.12], [408, 0.15], [409, 0.2], [410, 0.25], [411, 0.18], [412, 0.3],
  [413, 0.2], [413.7, 0.58], [414.5, 0.09], [415.5, 0.15], [416.5, 0.2], [417.5, 0.3], [418.5, 0.28],
  [419.5, 0.35], [420.5, 0.25], [421.2, 0.12], [422, 0.3], [422.5, 0.39], [423.5, 0.4], [424.5, 0.25],
  [425.5, 0.15], [426.4, 0.04], [426.9, 0.158], [428, 0.1], [429, 0.08], [430, 0.06], [431, 0.1],
  [431.9, 0.035], [433, 0.09], [434, 0.14], [435, 0.12], [436, 0.1], [437, 0.08], [438.4, 0.064],
  [439.4, 0.316], [440, 0.15],
];
// raw OC points that sit close to the smoothed line
const OC_RAW_NEAR: Pair[] = [
  [261, 0.3], [262, 0.4], [263.3, 0.45], [264.5, 0.3], [265.5, 0.25], [266.8, 0.28], [268.6, 0.18],
  [270, 0.17], [271.5, 0.11], [273, 0.07], [274.5, 0.08], [276, 0.12], [277.3, 0.25], [278.2, 0.35],
  [279, 0.38], [280, 0.42], [281.8, 0.5], [283, 0.45], [284, 0.38], [285.5, 0.4], [287, 0.3],
  [288, 0.4], [289.5, 0.28], [290.8, 0.26], [292.8, 0.3], [294, 0.3], [295, 0.18], [296.8, 0.18],
  [298.2, 0.14], [299.8, 0.42], [301, 0.45], [302, 0.45], [303.2, 0.5], [304.2, 0.35], [305.8, 0.25],
  [307, 0.26], [308.5, 0.22], [309.5, 0.15], [310.6, 0.26], [311.8, 0.4], [313, 0.38], [314, 0.42],
  [315.2, 0.42], [316.2, 0.3], [317.7, 0.15], [318.5, 0.13], [319.2, 0.2], [320.3, 0.3], [321.7, 0.35],
  [322.5, 0.35], [324, 0.2], [325.5, 0.25], [327.5, 0.23], [329, 0.25], [331.2, 0.24], [333.3, 0.28],
  [334.8, 0.2], [336, 0.1], [337.5, 0.07], [339, 0.06], [341, 0.07], [342, 0.12], [343, 0.13],
  [345, 0.08], [346.5, 0.055], [348, 0.06], [349, 0.05], [350.8, 0.055], [352.3, 0.14], [353.8, 0.14],
  [355.8, 0.2], [357.5, 0.25], [359, 0.3], [360.8, 0.18], [362.3, 0.2], [363.8, 0.23], [365, 0.2],
  [366.5, 0.1], [368, 0.08], [369.3, 0.1], [370.8, 0.12], [372.8, 0.18], [374, 0.22], [375.5, 0.27],
  [376.8, 0.15], [378.3, 0.25], [380.2, 0.13], [381.2, 0.14], [382.5, 0.2], [384, 0.3], [385.2, 0.5],
  [387, 0.35], [388.5, 0.3], [389.8, 0.6], [391.2, 0.07], [392.8, 0.25], [394.2, 0.3], [395.5, 0.3],
  [397, 0.38], [398.2, 0.15], [399.8, 0.09], [401, 0.15], [402.3, 0.12], [403.8, 0.08], [405.4, 0.07],
  [406.8, 0.11], [408, 0.14], [409.3, 0.17], [410.5, 0.2], [411.8, 0.22], [413.3, 0.24], [414.3, 0.11],
  [415.3, 0.14], [416.8, 0.2], [418, 0.26], [419, 0.3], [420, 0.25], [421.6, 0.2], [423, 0.33],
  [424.2, 0.25], [425.2, 0.12], [426.2, 0.09], [427.2, 0.08], [428.7, 0.07], [429.8, 0.06], [430.8, 0.06],
  [432.5, 0.09], [433.6, 0.11], [435.2, 0.12], [436.3, 0.09], [437.4, 0.12], [438.8, 0.17], [439.7, 0.18],
];

// f: NPS (%), reversed axis
const NPS: Pair[] = [
  [260, 61.2], [260.3, 83.8], [261, 86], [261.8, 89], [262.7, 95.7], [263.7, 54], [264.3, 72],
  [265, 69.5], [266, 63.6], [267, 83.8], [268, 80], [268.8, 84], [269.6, 80], [270.6, 84],
  [271.4, 83], [272.1, 43.3], [272.7, 93.3], [273.5, 90], [274.5, 92], [275.9, 90], [276.9, 77.9],
  [278.2, 43.3], [279, 23.1], [279.5, 88.6], [280.5, 26.7], [281.2, 55], [282, 80], [282.6, 81.4],
  [283, 50], [283.9, 18.3], [284.7, 38.6], [285.7, 80.2], [286.2, 72], [286.7, 68], [287.2, 70],
  [287.7, 62], [288.3, 60], [288.8, 55], [289.3, 39.8], [289.8, 45], [290.3, 43], [290.7, 60],
  [291.1, 93.3], [292.2, 43.3], [293, 90], [294, 36.2], [294.7, 70], [295.4, 8.8], [295.9, 45.7],
  [296.8, 25], [297.5, 33.8], [298.5, 7], [299.5, 0.5], [300.2, 24.3], [300.8, 1], [301.3, 3],
  [301.8, 0.5], [302.5, 2], [303.2, 0.5], [304, 3], [304.6, 2], [305.1, 12.4], [305.8, 81.4],
  [306.5, 25], [307.3, 7.6], [308.2, 25], [309.1, 86.2], [309.6, 75], [310, 68], [310.5, 75],
  [311, 66], [311.3, 72], [311.8, 65], [312.3, 62.4], [313.3, 14.8], [314.3, 8.8], [315.3, 8.8],
  [316.3, 38.6], [316.9, 78], [317.9, 93.3], [318.6, 70], [319.2, 84], [319.9, 5.2], [320.4, 10],
  [320.8, 3], [321.3, 12], [321.8, 25.5], [322.4, 5], [322.8, 15], [323.2, 27.9], [323.7, 12],
  [324.2, 8], [324.8, 14], [325.3, 3], [325.8, 0], [326.4, 6], [327, 2], [327.5, 5],
  [328.2, 9], [328.8, 3], [329.7, 3], [330.3, 7], [331, 4], [331.5, 2], [332.2, 5],
  [333, 1], [334, 2], [335, 0.5], [335.6, 4], [336.2, 38.6], [336.8, 25], [337.3, 93.3],
  [338.7, 27.9], [339.3, 76.7], [340.3, 78], [341.6, 93.3], [342.5, 90], [343.5, 88], [344.2, 92],
  [345, 91], [346, 90], [346.8, 88], [347.6, 92], [348.4, 91], [349.2, 94], [350, 95.7],
  [351, 83.6], [352, 85], [353, 74.3], [354, 67.1], [354.6, 82], [356, 80], [357, 74],
  [358.2, 70.7], [359.9, 93.3], [360.5, 43.3], [361.5, 30.2], [362.5, 12.4], [363.2, 38.6], [364, 40],
  [364.8, 69.5], [365.6, 50.5], [366.4, 63], [367.3, 19.5], [368.2, 65], [368.8, 55], [369.5, 91],
  [370.6, 52], [371.4, 24.3], [372.1, 10], [373.7, 0.5], [374.3, 20], [374.8, 93.3], [375.5, 98],
  [376.4, 62.4], [377.2, 52], [378, 33.8], [379, 25], [380, 29], [381, 2.9], [382.5, 4],
  [383.2, 40], [383.6, 76.7], [384.2, 38], [384.9, 0.5], [386.5, 1], [387.5, 24.3], [388.5, 55],
  [389.8, 83.8], [390.4, 98], [391, 72], [391.8, 5.2], [393, 0], [393.8, 3], [394.5, 1],
  [395.2, 4], [396, 1], [397, 3], [398.3, 4], [399, 1], [400, 2], [401, 0.5],
  [402, 2], [403, 0.5], [404, 2], [405, 0], [406, 1.5], [407, 0], [408, 1],
  [409, 0.5], [410, 2], [411.5, 1], [412.2, 24.3], [412.8, 2], [413.5, 0.5], [414.5, 1],
  [416, 0], [417, 1], [418, 0.5], [419, 0.5], [420, 1], [421, 7.6], [421.6, 1],
  [422.5, 0], [423.3, 1], [424, 0], [425.3, 0], [426, 8], [426.7, 18], [427.3, 12.4],
  [428.3, 48], [428.9, 74.3], [430.2, 81.4], [431.5, 88], [432.5, 86], [433.8, 91], [435.5, 92],
  [437, 95], [438.5, 96], [440, 99.3],
];

// numbered event labels: [age, value on the record's axis, text]
const MSID_TAGS: Tag[] = [
  [279.6, 60.56, "1"], [285, 58.82, "2"], [290.9, 59.83, "3"], [296.4, 58.72, "4"], [302.5, 59.29, "5"],
  [307.9, 59.63, "6"], [312.9, 57.88, "7"], [317.9, 58.05, "8"], [324.1, 56.13, "9"], [329.1, 58.95, "10"],
  [379.6, 62.65, "1"], [384.2, 62.75, "2"], [389.3, 61.84, "3"], [393.7, 62.85, "4"], [398.8, 61.57, "5"],
  [403.6, 62.42, "6"], [408.3, 60.91, "7"], [414, 62.75, "8"], [419.7, 61.17, "9"],
];
const O18_TAGS: Tag[] = [
  [279.8, -6.06, "1"], [285.1, -8.53, "2"], [290.1, -8.63, "3"], [297.5, -7.54, "4"], [302.3, -5.89, "5"],
  [309.1, -8.1, "6"], [313.9, -8.43, "7"], [317.5, -6.34, "8"], [323.2, -6.55, "9"], [378.1, -7.36, "1"],
  [387.7, -8.06, "3"], [396.2, -6.88, "4"], [418.9, -7.19, "9"],
];
const MO_TAGS: Tag[] = [
  [280, 162, "1"], [285.1, 369, "2"], [289.8, 95, "3"], [297.4, 309, "4"], [302.3, 95, "5"],
  [309.7, 376, "6"], [312.9, 274, "7"], [317.2, 114, "8"], [321.9, 445, "9"], [329.1, 536, "10"],
  [378.2, 159, "1"], [382.4, 393, "2"], [388.2, 171, "3"], [396.4, 148, "4"], [399.8, 412, "5"],
  [409.4, 595, "7"], [420.4, 488, "9"],
];
const CLAY_TAGS: Tag[] = [
  [280.2, 25.3, "1"], [285.2, 19.3, "2"], [290.3, 26.4, "3"], [299, 7.7, "4"], [302.2, 32.1, "5"],
  [309.4, 6.4, "6"], [313.5, 37.1, "7"], [317.5, 30.7, "8"], [324.2, 32.1, "9"], [329.3, 28.9, "10"],
  [380.1, 12.9, "1"], [382.9, 15.6, "2"], [387.7, 24.2, "3"], [392.1, 22.1, "4"], [404.1, 12, "6"],
  [410.2, 37.1, "7"], [415.1, 17.2, "8"], [421.5, 30, "9"],
];
const OC_TAGS: Tag[] = [
  [280.3, 0.259, "1"], [285.1, 0.255, "2"], [290.1, 0.183, "3"], [298.5, 0.0847, "4"], [302, 0.255, "5"],
  [309.4, 0.0964, "6"], [313, 0.265, "7"], [318.1, 0.081, "8"], [324.5, 0.112, "9"], [329.7, 0.145, "10"],
  [379.8, 0.0491, "1"], [383.7, 0.081, "2"], [387.9, 0.168, "3"], [391.5, 0.0305, "4"], [398.8, 0.0627, "5"],
  [403.7, 0.0407, "6"], [415.1, 0.0683, "8"], [421, 0.112, "9"],
];
const NPS_TAGS: Tag[] = [
  [279.4, 98, "1"], [285.7, 88.4, "2"], [292, 98.4, "3"], [297.2, 47.7, "4"], [300.4, 31.3, "5"],
  [305.4, 89.4, "6"], [310.4, 92.5, "7"], [319.2, 98.4, "8"], [324, 34.1, "9"], [331.3, 20.4, "10"],
  [383.6, 85.8, "2"], [392.3, 94.9, "3"], [412.1, 34.1, "8"], [421, 16.3, "9"],
];

const pts = (arr: Pair[]) => arr.map(([x, y]) => ({ x, y }));
const tags = (arr: Tag[]) => arr.map(([x, y, t]) => ({ x, y, t }));

const tickText = { fill: "#000", fontSize: 16, fontFamily: FONT };
const tickStroke = { stroke: "#000", strokeWidth: 1 };
const only = (keep: number[]) => (v: number) => (keep.includes(v) ? String(v) : "");

const tagShape = (p: any) => (
  <text
    x={p.cx}
    y={p.cy}
    textAnchor="middle"
    dominantBaseline="central"
    fontSize={15}
    fontFamily={FONT}
    fill="#000"
  >
    {p.payload.t}
  </text>
);
const dotShape = (color: string) => (p: any) => (
  <circle cx={p.cx} cy={p.cy} r={1.6} fill={color} />
);

// x axis shared by every layer; only the frame layer shows it
function ageAxis(visible: boolean) {
  return (
    <XAxis
      type="number"
      dataKey="x"
      domain={AGE_DOMAIN}
      allowDataOverflow
      height={30}
      ticks={visible ? AGE_TICKS : []}
      interval={0}
      tickFormatter={(v: number) => (v % 20 === 0 ? String(v) : "")}
      tickSize={6}
      tickMargin={10}
      axisLine={visible ? { stroke: "#000" } : false}
      tickLine={visible ? tickStroke : false}
      tick={visible ? tickText : false}
    />
  );
}

function Layer({ children }: { children: React.ReactNode }) {
  return <div style={{ position: "absolute", left: 0, top: 0 }}>{children}</div>;
}

function Frame() {
  return (
    <ComposedChart width={W} height={H} margin={MARGIN} data={pts([[260, 0], [440, 1]])}>
      {ageAxis(true)}
      <YAxis yAxisId="L" width={60} domain={[0, 1]} allowDataOverflow tick={false} tickLine={false} axisLine={{ stroke: "#000" }} />
      <YAxis yAxisId="R" orientation="right" width={60} domain={[0, 1]} allowDataOverflow tick={false} tickLine={false} axisLine={{ stroke: "#000" }} />
      {MIS_BANDS.map(([x1, x2, name]) => (
        <ReferenceArea
          key={name}
          yAxisId="L"
          x1={x1}
          x2={x2}
          y1={0}
          y2={1}
          fill={COLORS.band}
          fillOpacity={1}
          stroke="none"
          label={{ value: name, position: "top", offset: 11, fontSize: 22, fill: "#000", fontFamily: FONT }}
        />
      ))}
      <ReferenceLine yAxisId="L" y={1} stroke="#000" strokeWidth={1} />
    </ComposedChart>
  );
}

function TopLayer() {
  return (
    <ComposedChart width={W} height={H} margin={MARGIN}>
      {ageAxis(false)}
      <YAxis yAxisId="L" width={60} domain={MSID_DOMAIN} allowDataOverflow ticks={MSID_TICKS} interval={0}
        axisLine={false} tickLine={tickStroke} tickSize={8} tickMargin={5} tick={tickText} />
      <YAxis yAxisId="R" orientation="right" width={60} domain={O18_DOMAIN} reversed allowDataOverflow
        ticks={O18_TICKS} interval={0} tickFormatter={only(O18_LABELS)}
        axisLine={false} tickLine={tickStroke} tickSize={6} tickMargin={5} tick={tickText} />
      <Line yAxisId="L" data={pts(MSID)} dataKey="y" type="linear" stroke={COLORS.msid} strokeWidth={2.2}
        dot={false} isAnimationActive={false} strokeLinejoin="round" />
      <Line yAxisId="R" data={pts(O18)} dataKey="y" type="linear" stroke={COLORS.o18} strokeWidth={2}
        dot={false} isAnimationActive={false} strokeLinejoin="round" />
      <Scatter yAxisId="L" data={tags(MSID_TAGS)} dataKey="y" shape={tagShape} isAnimationActive={false} />
      <Scatter yAxisId="R" data={tags(O18_TAGS)} dataKey="y" shape={tagShape} isAnimationActive={false} />
    </ComposedChart>
  );
}

function MiddleLayer() {
  return (
    <ComposedChart width={W} height={H} margin={MARGIN}>
      {ageAxis(false)}
      <YAxis yAxisId="L" width={60} domain={MO_DOMAIN} allowDataOverflow ticks={MO_TICKS} interval={0}
        tickFormatter={only(MO_LABELS)}
        axisLine={false} tickLine={tickStroke} tickSize={8} tickMargin={5} tick={tickText} />
      <YAxis yAxisId="R" orientation="right" width={60} domain={CLAY_DOMAIN} allowDataOverflow
        ticks={CLAY_TICKS} interval={0} tickFormatter={only(CLAY_LABELS)}
        axisLine={false} tickLine={tickStroke} tickSize={6} tickMargin={5} tick={tickText} />
      <Scatter yAxisId="R" data={pts(CLAY_RAW)} dataKey="y" shape={dotShape(COLORS.clayDot)} isAnimationActive={false} />
      <Scatter yAxisId="R" data={pts(CLAY_RAW_NEAR)} dataKey="y" shape={dotShape(COLORS.clayDot)} isAnimationActive={false} />
      <Line yAxisId="L" data={pts(MO)} dataKey="y" type="linear" stroke={COLORS.mo} strokeWidth={2}
        dot={false} isAnimationActive={false} strokeLinejoin="round" />
      <Line yAxisId="R" data={pts(CLAY)} dataKey="y" type="linear" stroke={COLORS.clay} strokeWidth={2}
        dot={false} isAnimationActive={false} strokeLinejoin="round" />
      <Scatter yAxisId="L" data={tags(MO_TAGS)} dataKey="y" shape={tagShape} isAnimationActive={false} />
      <Scatter yAxisId="R" data={tags(CLAY_TAGS)} dataKey="y" shape={tagShape} isAnimationActive={false} />
    </ComposedChart>
  );
}

function BottomLayer() {
  return (
    <ComposedChart width={W} height={H} margin={MARGIN}>
      {ageAxis(false)}
      <YAxis yAxisId="L" width={60} scale="log" domain={OC_DOMAIN} allowDataOverflow ticks={OC_TICKS}
        interval={0} tickFormatter={(v: number) => (v === 0.1 ? "0.1" : "")}
        axisLine={false} tickLine={tickStroke} tickSize={8} tickMargin={5} tick={tickText} />
      <YAxis yAxisId="R" orientation="right" width={60} domain={NPS_DOMAIN} reversed allowDataOverflow
        ticks={NPS_TICKS} interval={0} tickFormatter={only(NPS_LABELS)}
        axisLine={false} tickLine={tickStroke} tickSize={6} tickMargin={5} tick={tickText} />
      <Scatter yAxisId="L" data={pts(OC_RAW)} dataKey="y" shape={dotShape(COLORS.ocDot)} isAnimationActive={false} />
      <Scatter yAxisId="L" data={pts(OC_RAW_NEAR)} dataKey="y" shape={dotShape(COLORS.ocDot)} isAnimationActive={false} />
      <Line yAxisId="L" data={pts(OC)} dataKey="y" type="linear" stroke={COLORS.oc} strokeWidth={2}
        dot={false} isAnimationActive={false} strokeLinejoin="round" />
      <Line yAxisId="R" data={pts(NPS)} dataKey="y" type="linear" stroke={COLORS.nps} strokeWidth={2}
        dot={false} isAnimationActive={false} strokeLinejoin="round" />
      <Scatter yAxisId="L" data={tags(OC_TAGS)} dataKey="y" shape={tagShape} isAnimationActive={false} />
      <Scatter yAxisId="R" data={tags(NPS_TAGS)} dataKey="y" shape={tagShape} isAnimationActive={false} />
    </ComposedChart>
  );
}

// axis titles and panel letters
function Titles() {
  const vTitle = (x: number, y: number, body: React.ReactNode) => (
    <text transform={`translate(${x},${y}) rotate(-90)`} textAnchor="middle" fontSize={19} fill="#000">
      {body}
    </text>
  );
  const letter = (x: number, y: number, s: string) => (
    <text x={x} y={y} fontSize={19} fontWeight="bold" fill="#000">{s}</text>
  );
  return (
    <svg width={W} height={H} style={{ position: "absolute", left: 0, top: 0, fontFamily: FONT, pointerEvents: "none" }}>
      {vTitle(40, 101, "MSID-hi (W/m²)")}
      {vTitle(20, 367, "Mo (caps)")}
      {vTitle(39, 660, "WB OC stack (%)")}
      {vTitle(1262, 252, (
        <>
          <tspan>Speleothem δ</tspan>
          <tspan dy={-7} fontSize={12}>18</tspan>
          <tspan dy={7}>O (‰)</tspan>
        </>
      ))}
      {vTitle(1262, 516, "WB clay stack (%)")}
      {vTitle(1262, 795, "NPS (%)")}
      <text x={640} y={921} textAnchor="middle" fontSize={19} fill="#000">Age (kyr)</text>
      {letter(89, 49, "a")}
      {letter(89, 186, "b")}
      {letter(89, 338, "c")}
      {letter(89, 520, "d")}
      {letter(89, 690, "e")}
      {letter(90, 808, "f")}
    </svg>
  );
}

export default function App() {
  return (
    <div style={{ position: "absolute", left: 0, top: 0, width: W, height: H, background: "#fff", fontFamily: FONT }}>
      <Layer><Frame /></Layer>
      <Layer><TopLayer /></Layer>
      <Layer><MiddleLayer /></Layer>
      <Layer><BottomLayer /></Layer>
      <Titles />
    </div>
  );
}
